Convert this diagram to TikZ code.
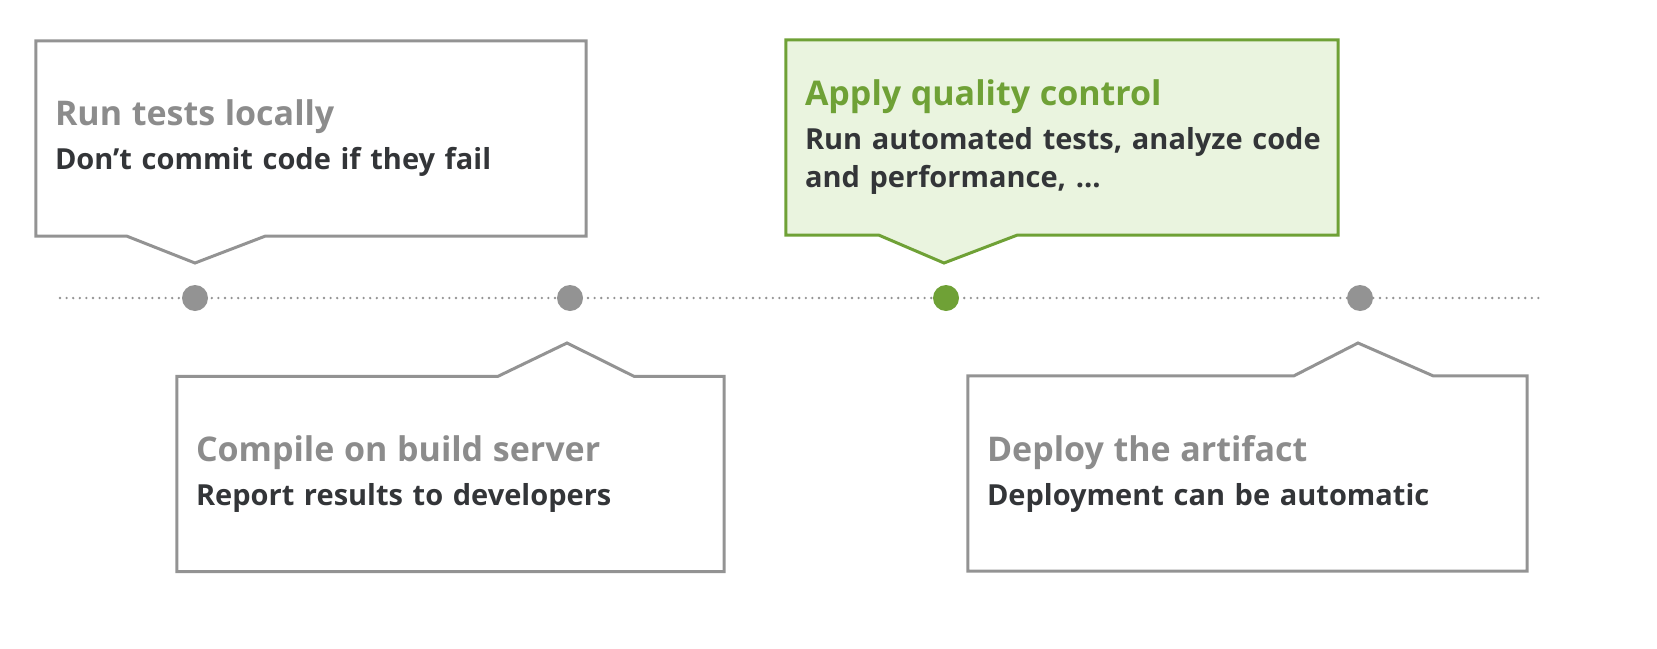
\documentclass[tikz,border=0pt]{standalone}
\usepackage{fontspec}
\setmainfont{Open Sans}
\usetikzlibrary{positioning,calc,backgrounds}

\definecolor{framegray}{HTML}{939393}
\definecolor{titlegray}{HTML}{8C8C8C}
\definecolor{textdark}{HTML}{333538}
\definecolor{qcgreen}{HTML}{6FA136}
\definecolor{qcfill}{HTML}{EAF4DF}

\newcommand{\stagehead}[2][titlegray]{{\fontsize{34}{40}\selectfont\color{#1}#2}\\[6pt]}

\tikzset{
  stage/.style = {align=left, inner xsep=19pt, inner ysep=0pt, minimum height=195pt,
    text=textdark, font=\bfseries\fontsize{29}{38}\selectfont},
  frame/.style = {draw=framegray, line width=3pt},
  qcframe/.style = {draw=qcgreen, fill=qcfill, line width=3pt},
  milestone/.style = {circle, fill=framegray, minimum size=26pt, inner sep=0pt},
  timeline/.style = {draw=framegray, line width=2.6pt, line cap=round, dash pattern=on 0pt off 6.6pt}
}

\begin{document}
\begin{tikzpicture}[x=1pt, y=-1pt]
  \useasboundingbox (0,0) rectangle (1657,648);

  % timeline with the four milestones
  \coordinate (start) at (60,298);
  \coordinate (end) at (1540,298);
  \draw[timeline] (start) -- (end);
  \node[milestone] (local) at (195,298) {};
  \node[milestone] (build) at (570,298) {};
  \node[milestone, fill=qcgreen] (quality) at (946,298) {};
  \node[milestone] (deploy) at (1360,298) {};

  % callouts
  \node[stage, text width=512pt] (runbox) at (311,138.5)
    {\stagehead{Run tests locally}Don’t commit code if they fail};
  \node[stage, text width=509pt] (compilebox) at (450.5,474)
    {\stagehead{Compile on build server}Report results to developers};
  \node[stage, text width=514pt] (qcbox) at (1062,137.5)
    {\stagehead[qcgreen]{Apply quality control}\mbox{Run automated tests, analyze code}\\and performance, …};
  \node[stage, text width=521pt] (deploybox) at (1247.5,473.5)
    {\stagehead{Deploy the artifact}Deployment can be automatic};

  \begin{pgfonlayer}{background}
    \draw[frame] (runbox.north west) -- (runbox.north east) -- (runbox.south east)
      -- ($(local |- runbox.south)+(70,0)$) -- ($(local)+(0,-35)$)
      -- ($(local |- runbox.south)+(-68,0)$) -- (runbox.south west) -- cycle;
    \draw[frame] (compilebox.south west) -- (compilebox.north west)
      -- ($(build |- compilebox.north)+(-72,0)$) -- ($(build)+(-3,45)$)
      -- ($(build |- compilebox.north)+(64,0)$) -- (compilebox.north east)
      -- (compilebox.south east) -- cycle;
    \draw[qcframe] (qcbox.north west) -- (qcbox.north east) -- (qcbox.south east)
      -- ($(quality |- qcbox.south)+(71,0)$) -- ($(quality)+(-2,-35)$)
      -- ($(quality |- qcbox.south)+(-67,0)$) -- (qcbox.south west) -- cycle;
    \draw[frame] (deploybox.south west) -- (deploybox.north west)
      -- ($(deploy |- deploybox.north)+(-66,0)$) -- ($(deploy)+(-2,45)$)
      -- ($(deploy |- deploybox.north)+(73,0)$) -- (deploybox.north east)
      -- (deploybox.south east) -- cycle;
  \end{pgfonlayer}

\end{tikzpicture}
\end{document}
